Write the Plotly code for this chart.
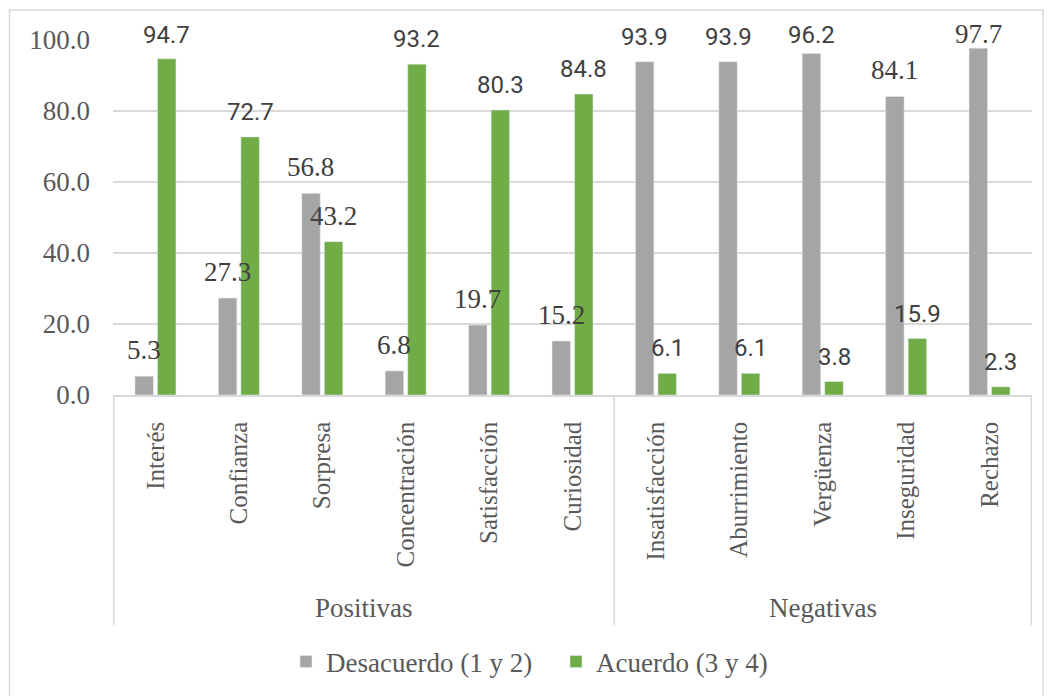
import plotly.graph_objects as go

categories = ["Interés", "Confianza", "Sorpresa", "Concentración", "Satisfacción", "Curiosidad",
              "Insatisfacción", "Aburrimiento", "Vergüenza", "Inseguridad", "Rechazo"]
groups = ["Positivas", "Negativas"]
group_sizes = [6, 5]
desacuerdo = [5.3, 27.3, 56.8, 6.8, 19.7, 15.2, 93.9, 93.9, 96.2, 84.1, 97.7]
acuerdo = [94.7, 72.7, 43.2, 93.2, 80.3, 84.8, 6.1, 6.1, 3.8, 15.9, 2.3]
y_ticks = [0, 20, 40, 60, 80, 100]

SERIF = "Liberation Serif, Times New Roman, serif"
NARROW = "Roboto, sans-serif"
des_fonts = [SERIF] * 6 + [NARROW] * 3 + [SERIF] * 2
acu_fonts = [NARROW, NARROW, SERIF] + [NARROW] * 8
FS = 27
LABEL_CAP = 94.4  # labels of taller bars are held inside the chart area

L, R, T, B = 113, 21, 40, 300
W, H = 1053, 696
pw, ph = W - L - R, H - T - B
BARGAP, BARGROUPGAP = 0.46, 0.18


def px_x(p):
    return (p - L) / pw


def px_y(p):
    return (H - B - p) / ph


fig = go.Figure()
fig.add_trace(go.Bar(x=categories, y=desacuerdo, name="Desacuerdo (1 y 2)",
                     marker=dict(color="#a5a5a5")))
fig.add_trace(go.Bar(x=categories, y=acuerdo, name="Acuerdo (3 y 4)",
                     marker=dict(color="#70ad47")))

cat_w = pw / len(categories)
slot = cat_w * (1 - BARGAP) / 2
annotations = []
for vals, fonts, sign in [(desacuerdo, des_fonts, -1), (acuerdo, acu_fonts, 1)]:
    for c, v, f in zip(categories, vals, fonts):
        annotations.append(dict(
            x=c, y=min(v, LABEL_CAP), xref="x", yref="y", text=f"{v:.1f}", showarrow=False,
            xanchor="center", yanchor="bottom", xshift=sign * slot / 2, yshift=9,
            font=dict(family=f, size=FS if f == SERIF else 24, color="#404040"),
        ))

shapes = []
bounds = [-0.5]
acc = -0.5
for n in group_sizes:
    acc += n
    bounds.append(acc)
for b in bounds:
    shapes.append(dict(type="line", xref="x", yref="paper", x0=b, x1=b,
                       y0=0, y1=px_y(627), line=dict(color="#d9d9d9", width=1.5)))
shapes.append(dict(type="rect", xref="paper", yref="paper",
                   x0=px_x(9.5), x1=px_x(1043), y0=px_y(10), y1=px_y(710),
                   line=dict(color="#d9d9d9", width=1.5), fillcolor="rgba(0,0,0,0)", layer="below"))

start = 0
for g, n in zip(groups, group_sizes):
    center = start + (n - 1) / 2
    annotations.append(dict(x=center, y=px_y(610), xref="x", yref="paper", text=g,
                            showarrow=False, font=dict(family=SERIF, size=FS, color="#595959"),
                            xanchor="center", yanchor="middle"))
    start += n

fig.update_layout(
    width=W, height=H,
    margin=dict(l=L, r=R, t=T, b=B),
    paper_bgcolor="white", plot_bgcolor="white",
    barmode="group", bargap=BARGAP, bargroupgap=BARGROUPGAP,
    shapes=shapes, annotations=annotations,
    legend=dict(orientation="h", x=px_x(286), xanchor="left", y=px_y(662), yanchor="middle",
                font=dict(family=SERIF, size=FS, color="#595959"), itemwidth=30,
                traceorder="normal", entrywidthmode="pixels", entrywidth=225),
    font=dict(family=SERIF, color="#595959"),
)
fig.update_xaxes(
    type="category", tickangle=-90, showgrid=False,
    showline=True, linecolor="#d9d9d9", linewidth=1.5,
    tickfont=dict(family=SERIF, size=25, color="#595959"),
    ticks="", ticklabelstandoff=15,
)
fig.update_yaxes(
    range=[0, 100], tickvals=y_ticks, ticktext=[f"{v:.1f}" for v in y_ticks],
    showgrid=True, gridcolor="#d9d9d9", gridwidth=1.5, zeroline=False,
    showline=False, ticks="",
    tickfont=dict(family=SERIF, size=FS, color="#595959"),
    ticklabelstandoff=22,
)

fig.write_html("out.html", config={"displayModeBar": False},
               post_script="document.body.style.margin='0';document.body.style.overflow='hidden';")
